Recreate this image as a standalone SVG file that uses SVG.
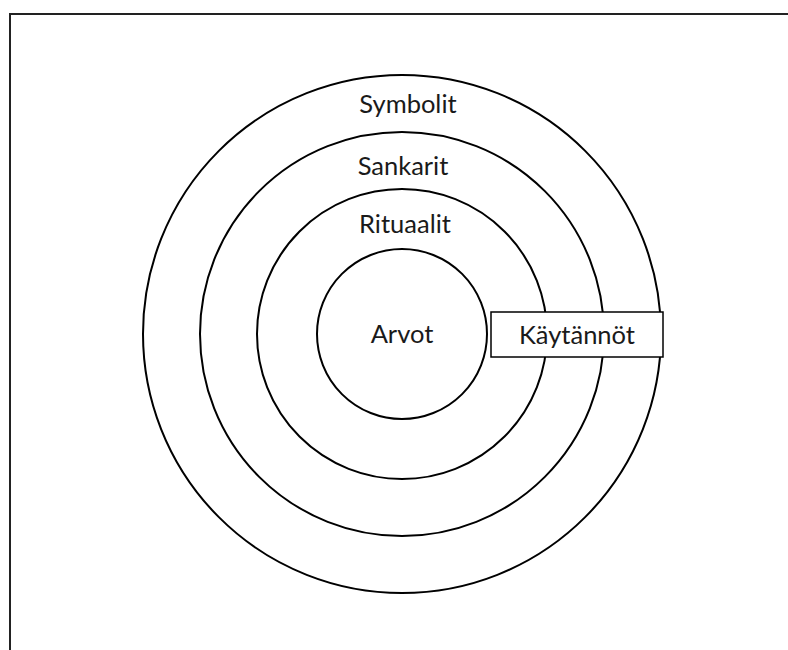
<svg xmlns="http://www.w3.org/2000/svg" width="788" height="650" viewBox="0 0 788 650">
<style>
.ring{fill:none;stroke:#000;stroke-width:2}
.lbl{font-family:Lato,"Liberation Sans",sans-serif;font-size:25.5px;fill:#1a1a1a;text-anchor:middle}
</style>
<rect width="788" height="650" fill="#fff"/>
<g id="frame"><path d="M10 650 V14 H788" fill="none" stroke="#222" stroke-width="2"/></g>
<g id="symbolit"><circle class="ring" cx="402" cy="334" r="259"/><text class="lbl" x="408" y="113">Symbolit</text></g>
<g id="sankarit"><circle class="ring" cx="402" cy="334" r="202"/><text class="lbl" x="403" y="175">Sankarit</text></g>
<g id="rituaalit"><circle class="ring" cx="402" cy="334" r="145"/><text class="lbl" x="405" y="233">Rituaalit</text></g>
<g id="arvot"><circle class="ring" cx="402" cy="334" r="85"/><text class="lbl" x="402" y="343">Arvot</text></g>
<g id="kaytannot"><rect x="491" y="312" width="172" height="45" fill="#fff" stroke="#000" stroke-width="1.5"/><text class="lbl" x="577" y="344">Käytännöt</text></g>
<g id="connectors"/>
</svg>
